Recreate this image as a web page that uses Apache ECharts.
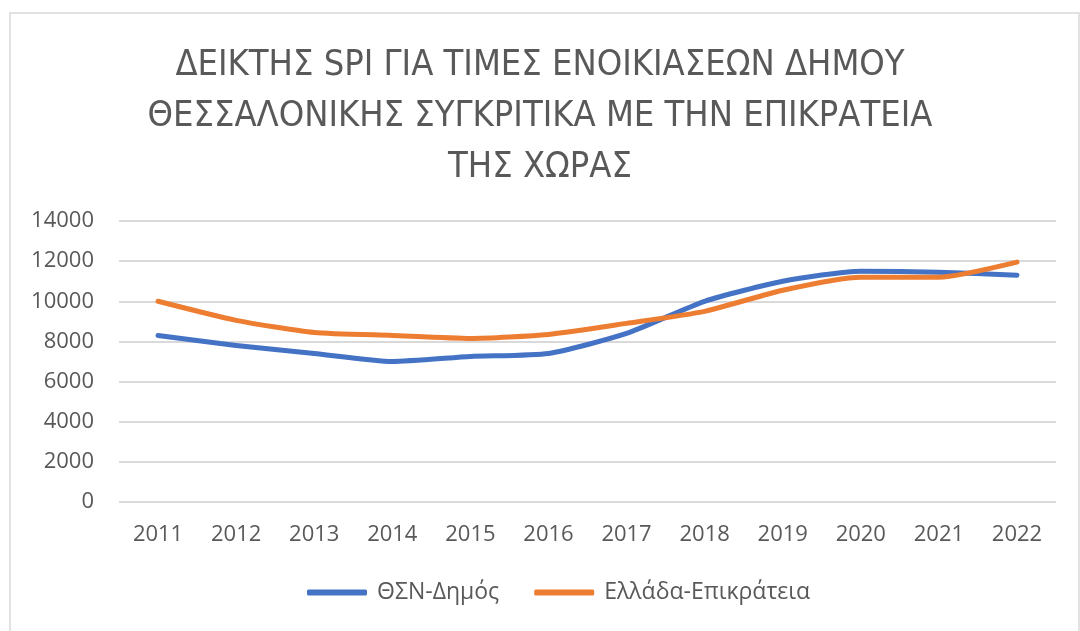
<!DOCTYPE html>
<html>
<head>
<meta charset="utf-8">
<script src="https://cdn.jsdelivr.net/npm/echarts@6/dist/echarts.min.js"></script>
<style>
  html, body { margin: 0; padding: 0; background: #fff; }
  #chart { width: 1080px; height: 631px; }
</style>
</head>
<body>
<div id="chart"></div>
<script>
// years on the x axis
const years = ["2011", "2012", "2013", "2014", "2015", "2016", "2017", "2018", "2019", "2020", "2021", "2022"];
// SPI values
const thesDimos = [8300, 7800, 7400, 7000, 7250, 7400, 8400, 10000, 11000, 11500, 11450, 11300];
const elladaEpikrateia = [10000, 9050, 8450, 8300, 8150, 8350, 8900, 9500, 10550, 11200, 11200, 11950];
const seriesNames = ["ΘΣΝ-Δημός", "Ελλάδα-Επικράτεια"];

const chart = echarts.init(document.getElementById("chart"));

const option = {
  backgroundColor: "#fff",
  animation: false,
  // thin grey frame around the chart area
  graphic: [{
    type: "rect",
    shape: { x: 10, y: 13, width: 1069, height: 640 },
    style: { fill: "none", stroke: "#e2e2e2", lineWidth: 2 }
  }],
  title: {
    text: "ΔΕΙΚΤΗΣ SPI ΓΙΑ ΤΙΜΕΣ ΕΝΟΙΚΙΑΣΕΩΝ ΔΗΜΟΥ\nΘΕΣΣΑΛΟΝΙΚΗΣ ΣΥΓΚΡΙΤΙΚΑ ΜΕ ΤΗΝ ΕΠΙΚΡΑΤΕΙΑ\nΤΗΣ ΧΩΡΑΣ",
    left: "center",
    top: 35,
    textStyle: {
      fontFamily: "'DejaVu Sans Condensed', 'Roboto'",
      fontWeight: "normal",
      fontSize: 36,
      lineHeight: 51,
      color: "#595959"
    }
  },
  legend: {
    data: seriesNames,
    bottom: 22,
    left: 302,
    icon: "roundRect",
    itemWidth: 60,
    itemHeight: 6,
    itemGap: 35,
    textStyle: { fontFamily: "Open Sans", fontSize: 23, color: "#595959", padding: [0, 0, 0, 5] }
  },
  grid: { left: 119, right: 24, top: 221, bottom: 129 },
  xAxis: {
    type: "category",
    data: years,
    boundaryGap: true,
    axisLine: { show: false },
    axisTick: { show: false },
    axisLabel: { fontFamily: "Open Sans", fontSize: 22, color: "#595959", margin: 22 }
  },
  yAxis: {
    type: "value",
    min: 0,
    max: 14000,
    interval: 2000,
    axisLine: { show: false },
    axisTick: { show: false },
    axisLabel: {
      fontFamily: "Open Sans", fontSize: 22, color: "#595959", margin: 25,
      formatter: (v) => String(v)
    },
    splitLine: { lineStyle: { color: "#d9d9d9", width: 2 } }
  },
  series: [
    {
      name: seriesNames[0],
      type: "line",
      data: thesDimos,
      smooth: 0.2,
      symbol: "none",
      lineStyle: { color: "#4472c4", width: 5, cap: "round", join: "round" },
      itemStyle: { color: "#4472c4" }
    },
    {
      name: seriesNames[1],
      type: "line",
      data: elladaEpikrateia,
      smooth: 0.2,
      symbol: "none",
      lineStyle: { color: "#ed7d31", width: 5, cap: "round", join: "round" },
      itemStyle: { color: "#ed7d31" }
    }
  ]
};

chart.setOption(option);
</script>
</body>
</html>
